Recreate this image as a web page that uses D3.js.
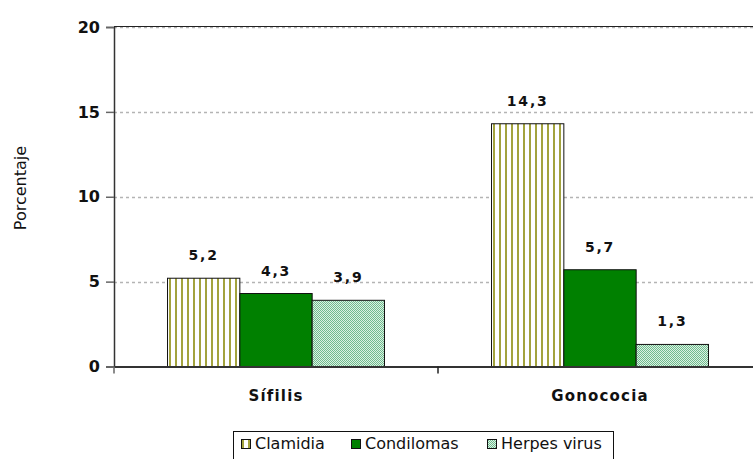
<!DOCTYPE html>
<html>
<head>
<meta charset="utf-8">
<script src="https://cdn.jsdelivr.net/npm/d3@7"></script>
<style>
  body { margin: 0; background: #fff; }
  svg { display: block; font-family: "DejaVu Sans", Verdana, sans-serif; }
</style>
</head>
<body>
<svg id="chart" width="753" height="459"></svg>
<script>
var categories = ["Sífilis", "Gonococia"];
var seriesNames = ["Clamidia", "Condilomas", "Herpes virus"];
var clamidia = [5.2, 14.3];
var condilomas = [4.3, 5.7];
var herpes = [3.9, 1.3];
var yTicks = [0, 5, 10, 15, 20];

var seriesValues = [clamidia, condilomas, herpes];
var fills = ["url(#pat-clamidia)", "#008000", "url(#pat-herpes)"];

var svg = d3.select("#chart");
var plotLeft = 114, plotRight = 762, plotTop = 27, plotBottom = 366.5;

var defs = svg.append("defs");
// vertical olive stripes
var p1 = defs.append("pattern").attr("id", "pat-clamidia")
    .attr("patternUnits", "userSpaceOnUse").attr("width", 6).attr("height", 6)
    .attr("x", 1);
p1.append("rect").attr("width", 6).attr("height", 6).attr("fill", "#ffffff");
p1.append("rect").attr("x", 0).attr("width", 2).attr("height", 6).attr("fill", "#a3a33d");
// fine dotted green
var p2 = defs.append("pattern").attr("id", "pat-herpes")
    .attr("patternUnits", "userSpaceOnUse").attr("width", 2).attr("height", 2);
p2.append("rect").attr("width", 2).attr("height", 2).attr("fill", "#dcf1e3");
p2.append("rect").attr("width", 1).attr("height", 1).attr("fill", "#6fbb8e");
p2.append("rect").attr("x", 1).attr("y", 1).attr("width", 1).attr("height", 1).attr("fill", "#6fbb8e");

var x0 = d3.scaleBand().domain(categories).range([plotLeft, plotRight]);
var x1 = d3.scaleBand().domain(seriesNames).range([0, x0.bandwidth()]).paddingOuter(0.74);
var y = d3.scaleLinear().domain([0, 20]).range([plotBottom, plotTop]);

// gridlines
svg.append("g").selectAll("line").data(yTicks.filter(function(d) { return d > 0; }))
    .join("line")
    .attr("x1", plotLeft).attr("x2", 753)
    .attr("y1", function(d) { return Math.round(y(d)) + 0.5; })
    .attr("y2", function(d) { return Math.round(y(d)) + 0.5; })
    .attr("stroke", "#b4b4b4").attr("stroke-width", 1.5)
    .attr("stroke-dasharray", "3,3");
svg.append("line")
    .attr("x1", plotLeft).attr("x2", 753)
    .attr("y1", Math.round(y(20)) - 0.5).attr("y2", Math.round(y(20)) - 0.5)
    .attr("stroke", "#222").attr("stroke-width", 1);

// bars
var groups = svg.append("g").selectAll("g").data(categories).join("g")
    .attr("transform", function(c) { return "translate(" + x0(c) + ",0)"; });

groups.selectAll("rect")
    .data(function(c, ci) {
        return seriesNames.map(function(s, si) { return { s: s, si: si, v: seriesValues[si][ci] }; });
    })
    .join("rect")
    .attr("x", function(d) { return x1(d.s); })
    .attr("width", x1.bandwidth())
    .attr("y", function(d) { return y(d.v); })
    .attr("height", function(d) { return y(0) - y(d.v); })
    .attr("fill", function(d) { return fills[d.si]; })
    .attr("stroke", "#111").attr("stroke-width", 1);

groups.selectAll("text")
    .data(function(c, ci) {
        return seriesNames.map(function(s, si) { return { s: s, v: seriesValues[si][ci] }; });
    })
    .join("text")
    .attr("x", function(d) { return x1(d.s) + x1.bandwidth() / 2; })
    .attr("y", function(d) { return y(d.v) - 18; })
    .attr("text-anchor", "middle")
    .attr("font-size", 14).attr("font-weight", "bold").attr("fill", "#111")
    .attr("letter-spacing", 1.8)
    .text(function(d) { return String(d.v).replace(".", ","); });

// y axis
var yAxis = svg.append("g").attr("transform", "translate(" + plotLeft + ",0)")
    .call(d3.axisLeft(y).tickValues(yTicks).tickSize(8).tickPadding(6));
yAxis.select(".domain").attr("stroke", "#333").attr("stroke-width", 1.5);
yAxis.selectAll(".tick line").attr("stroke", "#666").attr("stroke-width", 1.5);
yAxis.selectAll(".tick text").attr("font-size", 16).attr("font-weight", "bold")
    .attr("fill", "#111").attr("font-family", "DejaVu Sans, sans-serif");

// x axis
var xAxis = svg.append("g").attr("transform", "translate(0," + plotBottom + ")")
    .call(d3.axisBottom(x0).tickSize(0).tickPadding(24));
xAxis.select(".domain").attr("stroke", "#333").attr("stroke-width", 1.8);
xAxis.selectAll(".tick text").attr("font-size", 15).attr("font-weight", "bold")
    .attr("letter-spacing", 1.2)
    .attr("fill", "#111").attr("font-family", "DejaVu Sans, sans-serif");
svg.append("g").selectAll("line").data(categories.slice(1)).join("line")
    .attr("x1", function(c) { return x0(c); }).attr("x2", function(c) { return x0(c); })
    .attr("y1", plotBottom).attr("y2", plotBottom + 7)
    .attr("stroke", "#222").attr("stroke-width", 1.5);
svg.append("line")
    .attr("x1", plotLeft).attr("x2", plotLeft).attr("y1", plotBottom).attr("y2", plotBottom + 7)
    .attr("stroke", "#666").attr("stroke-width", 1.5);

// y label
svg.append("text")
    .attr("transform", "translate(26,188) rotate(-90)")
    .attr("text-anchor", "middle")
    .attr("font-size", 16).attr("fill", "#111")
    .text("Porcentaje");

// legend
var legend = svg.append("g");
legend.append("rect")
    .attr("x", 233.5).attr("y", 431.5).attr("width", 380).attr("height", 40)
    .attr("fill", "#fff").attr("stroke", "#111");
var legendX = [241, 351, 487];
var items = legend.selectAll("g").data(seriesNames).join("g")
    .attr("transform", function(d, i) { return "translate(" + legendX[i] + ",439)"; });
items.append("rect")
    .attr("width", 9).attr("height", 9).attr("x", 0.5).attr("y", 0.5)
    .attr("fill", function(d, i) { return fills[i]; })
    .attr("stroke", "#111");
items.append("text")
    .attr("x", 14).attr("y", 10)
    .attr("font-size", 16).attr("fill", "#111")
    .text(function(d) { return d; });
</script>
</body>
</html>
